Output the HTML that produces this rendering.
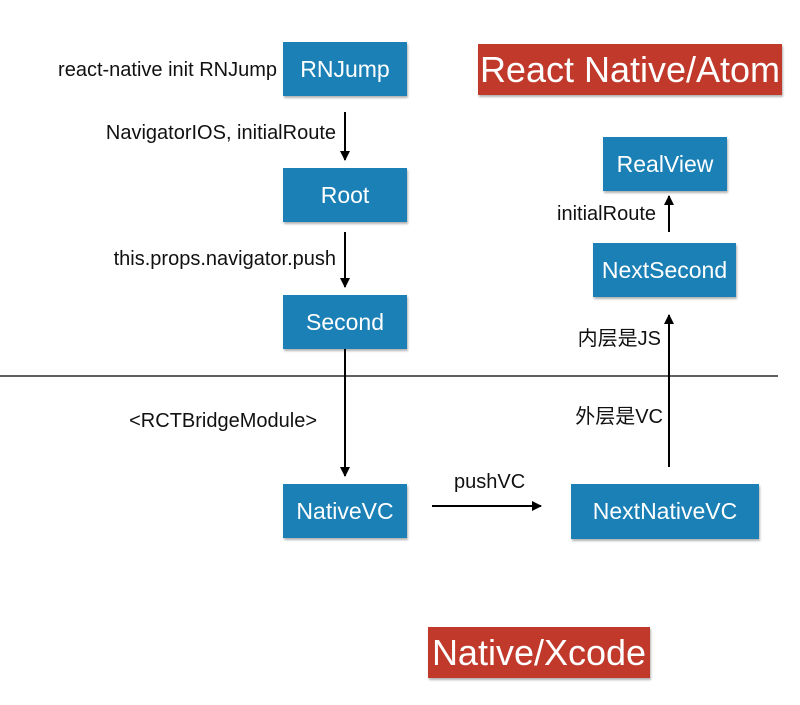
<!DOCTYPE html>
<html><head><meta charset="utf-8"><style>
body{margin:0;width:800px;height:705px;background:#fff;position:relative;font-family:"Liberation Sans","Noto Sans CJK SC",sans-serif;overflow:hidden}
.b{position:absolute;background:#1a80b6;color:#fff;font-size:23px;display:flex;align-items:center;justify-content:center;box-shadow:1px 2px 2px rgba(0,0,0,.3)}
.r{position:absolute;background:#c0392b;color:#fff;font-size:36px;display:flex;align-items:center;justify-content:center;box-shadow:1px 2px 2px rgba(0,0,0,.3)}
.l{position:absolute;font-size:20px;line-height:24px;color:#111;white-space:nowrap;width:400px}
.rt{text-align:right}
</style></head><body>
<svg width="800" height="705" style="position:absolute;left:0;top:0">
<defs><marker id="a" markerWidth="10" markerHeight="10" refX="9" refY="5" orient="auto" markerUnits="userSpaceOnUse"><path d="M0,0 L10,5 L0,10 z" fill="#000"/></marker></defs>
<g stroke="#000" stroke-width="2" fill="none">
<line x1="0" y1="376" x2="778" y2="376" stroke-width="1.2"/>
<line x1="345" y1="112" x2="345" y2="160" marker-end="url(#a)"/>
<line x1="345" y1="232" x2="345" y2="287" marker-end="url(#a)"/>
<line x1="345" y1="349" x2="345" y2="476" marker-end="url(#a)"/>
<line x1="432" y1="506" x2="541" y2="506" marker-end="url(#a)"/>
<line x1="669" y1="467" x2="669" y2="315" marker-end="url(#a)"/>
<line x1="669" y1="232" x2="669" y2="196" marker-end="url(#a)"/>
</g></svg>
<div class="b" style="left:283px;top:42px;width:124px;height:54px">RNJump</div>
<div class="b" style="left:283px;top:168px;width:124px;height:54px">Root</div>
<div class="b" style="left:283px;top:295px;width:124px;height:54px">Second</div>
<div class="b" style="left:283px;top:484px;width:124px;height:54px">NativeVC</div>
<div class="b" style="left:571px;top:484px;width:188px;height:55px">NextNativeVC</div>
<div class="b" style="left:593px;top:243px;width:143px;height:54px">NextSecond</div>
<div class="b" style="left:603px;top:137px;width:124px;height:54px">RealView</div>
<div class="r" style="left:478px;top:44px;width:304px;height:51px">React Native/Atom</div>
<div class="r" style="left:428px;top:627px;width:222px;height:51px">Native/Xcode</div>
<div class="l rt" style="left:-123px;top:58px">react-native init RNJump</div>
<div class="l rt" style="left:-64px;top:121px">NavigatorIOS, initialRoute</div>
<div class="l rt" style="left:-64px;top:247px">this.props.navigator.push</div>
<div class="l rt" style="left:-83px;top:409px">&lt;RCTBridgeModule&gt;</div>
<div class="l" style="left:454px;top:470px">pushVC</div>
<div class="l rt" style="left:256px;top:202px">initialRoute</div>
<div class="l rt" style="left:261px;top:327px">内层是JS</div>
<div class="l rt" style="left:263px;top:405px">外层是VC</div>
</body></html>
